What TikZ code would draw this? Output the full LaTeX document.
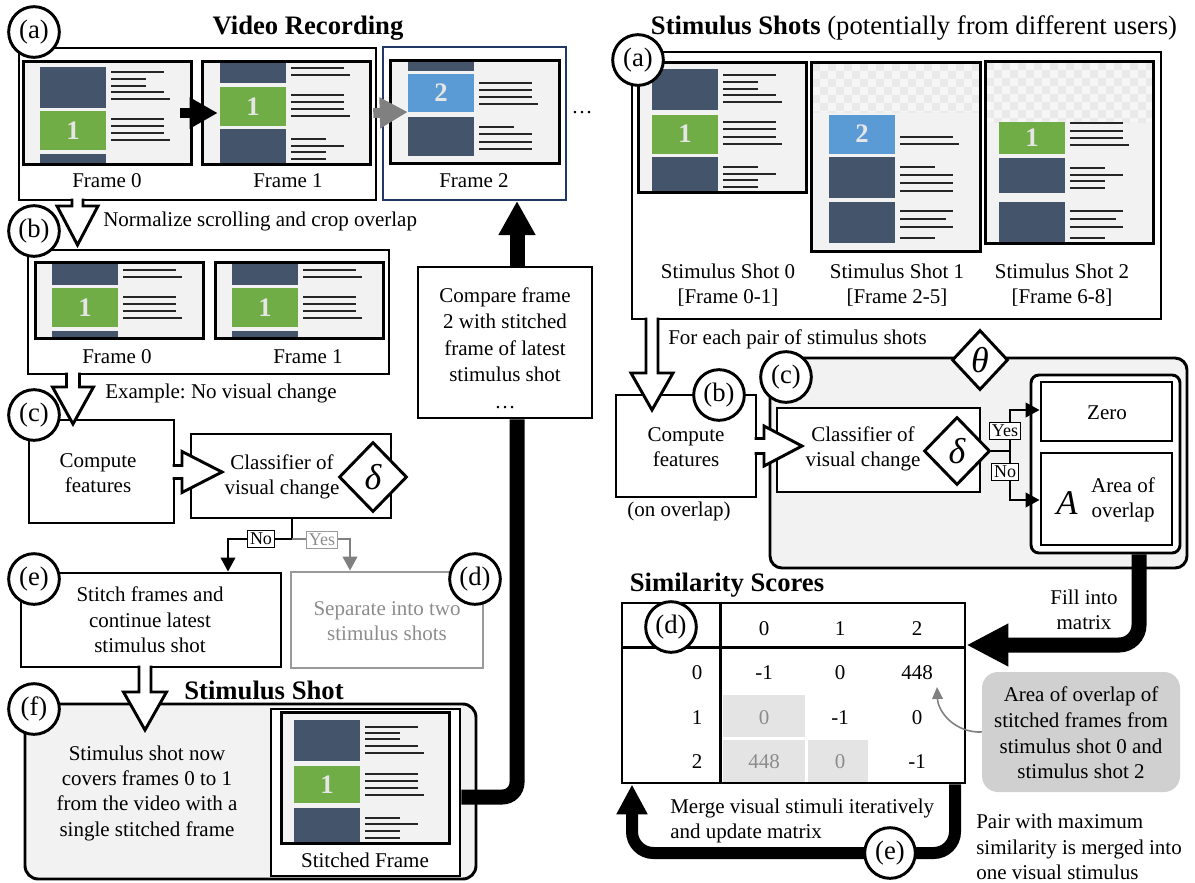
\documentclass[tikz,border=0pt]{standalone}
\usepackage{fontspec}
\setmainfont{Liberation Serif}
\usetikzlibrary{arrows.meta,shapes.geometric,fit,calc}
\frenchspacing
\definecolor{dk}{HTML}{44546A}
\definecolor{gr}{HTML}{70AD47}
\definecolor{bu}{HTML}{5B9BD5}
\definecolor{tb}{HTML}{F2F2F2}
\definecolor{nv}{HTML}{1F3864}
\definecolor{numc}{HTML}{E7E6E6}
\definecolor{gline}{HTML}{999999}
\definecolor{gtext}{HTML}{8C8C8C}
\definecolor{gray50}{HTML}{808080}
\definecolor{cell}{HTML}{E4E4E4}
\definecolor{callout}{HTML}{D0D0D0}
\definecolor{chk}{HTML}{EAEAEA}
\definecolor{chkbg}{HTML}{F6F6F6}
\definecolor{tl}{HTML}{262626}
\tikzset{
  bx/.style={draw, line width=2.2pt, inner sep=0pt},
  fr/.style={line width=2.2pt},
  tx/.style={font=\fontsize{15.75}{19}\selectfont, align=center, inner sep=0pt},
  ttl/.style={font=\fontsize{20}{24}\selectfont\bfseries, inner sep=0pt},
  lab/.style={circle, draw, line width=2.2pt, fill=white, minimum size=38pt, inner sep=0pt, font=\fontsize{20}{24}\selectfont},
  num/.style={font=\fontsize{20}{24}\selectfont\bfseries, text=numc, inner sep=0pt},
  tline/.style={draw=tl, line width=1.4pt},
  yn/.style={draw, line width=1pt, fill=white, inner sep=2pt, font=\fontsize{13.5}{15}\selectfont},
  arr/.style={line width=1.5pt, -{Triangle[length=10.5pt,width=11pt]}},
  blk/.style={line width=2.2pt, line join=miter},
  dia/.style={diamond, draw, line width=2.2pt, fill=white, inner sep=0pt, font=\fontsize{27}{27}\selectfont\itshape},
}
\newcommand\TLs[2]{\foreach \yy/\ee in {#2}{\draw[tline] (#1+71,\yy) -- (#1+\ee,\yy);}}
\newcommand\hdown[7]{%
  \fill[white] (#1-#5,#2-#7) -- (#1-#5,#3) -- (#1-#6,#3) -- (#1,#4) -- (#1+#6,#3) -- (#1+#5,#3) -- (#1+#5,#2-#7) -- cycle;
  \draw[blk] (#1-#5,#2-1.4) -- (#1-#5,#3) -- (#1-#6,#3) -- (#1,#4) -- (#1+#6,#3) -- (#1+#5,#3) -- (#1+#5,#2-1.4);}
\newcommand\hright[7]{%
  \fill[white] (#2-#7,#1-#5) -- (#3,#1-#5) -- (#3,#1-#6) -- (#4,#1) -- (#3,#1+#6) -- (#3,#1+#5) -- (#2-#7,#1+#5) -- cycle;
  \draw[blk] (#2-1.4,#1-#5) -- (#3,#1-#5) -- (#3,#1-#6) -- (#4,#1) -- (#3,#1+#6) -- (#3,#1+#5) -- (#2-1.4,#1+#5);}
\newcommand\checker[4]{%
  \begin{scope}
  \clip (#1,#2) rectangle (#3,#4);
  \fill[chkbg] (#1,#2) rectangle (#3,#4);
  \foreach \i in {0,...,21}{\foreach \j in {0,...,8}{%
    \pgfmathtruncatemacro\kk{mod(\i+\j,2)}%
    \ifnum\kk=0 \fill[chk] (#1+8*\i,#2+8*\j) rectangle ++(8,8);\fi}}
  \end{scope}}
\begin{document}
\begin{tikzpicture}[x=0.75pt,y=-0.75pt]
\useasboundingbox (0,0) rectangle (1195,882);

% ================= LEFT: (a) video recording =================
\node[ttl] (tvr) at (308,28) {Video Recording};
\node[bx, fit={(19,48)(376,200)}] (va) {};
% frame 0
\node[fit={(24,62)(191,164)}, inner sep=0pt, fill=tb] (f0a) {};
\fill[dk] (40,67) rectangle (106,108);
\fill[gr] (40,111) rectangle (106,150);
\fill[dk] (40,154) rectangle (106,164);
\node[num] (n0a) at (73,131) {1};
\TLs{40}{72/124,79/106,86/106,92/124,99/130,119/124,126/124,133/124,140/130}
\draw[fr] (f0a.north west) rectangle (f0a.south east);
% frame 1
\node[fit={(203,62)(370,164)}, inner sep=0pt, fill=tb] (f1a) {};
\fill[dk] (220,62) rectangle (286,83);
\fill[gr] (220,87) rectangle (286,126);
\fill[dk] (220,129) rectangle (286,164);
\node[num] (n1a) at (253,107) {1};
\TLs{220}{68/124,75/130,95/124,102/124,109/124,116/130,139/106,146/124,152/106,159/106}
\draw[fr] (f1a.north west) rectangle (f1a.south east);
% frame 2
\node[draw=nv, line width=1.5pt, inner sep=0pt, fit={(383,47)(566,200)}] (f2) {};
\node[fit={(391,61)(559,163)}, inner sep=0pt, fill=tb] (f2t) {};
\fill[dk] (408,62) rectangle (474,71);
\fill[bu] (408,74) rectangle (474,112);
\fill[dk] (408,117) rectangle (474,156);
\node[num] (n2) at (441,93) {2};
\TLs{408}{83/124,90/124,97/124,104/130,127/106,134/124,142/124,149/124}
\draw[fr] (f2t.north west) rectangle (f2t.south east);
\node[tx] (lf0) at (107,181) {Frame 0};
\node[tx] (lf1) at (288,181) {Frame 1};
\node[tx] (lf2) at (474,181) {Frame 2};
\node[tx] (dots) at (582,113) {…};
\draw[line width=7.5pt, -{Triangle[length=21pt,width=22pt]}] ($(f0a.east)+(-11,0)$) -- ($(f1a.west)+(15,0)$);
\draw[gray50, line width=7.5pt, -{Triangle[length=21pt,width=22pt]}] ($(f1a.east)+(3,0)$) -- ($(f2t.west)+(17,0)$);

% ================= LEFT: (b) =================
\node[tx, anchor=west] (tnorm) at (103,221) {Normalize scrolling and crop overlap};
\node[bx, fit={(28,250)(389,374)}] (vb) {};
\node[fit={(36,263)(203,338)}, inner sep=0pt, fill=tb] (f0b) {};
\fill[dk] (52,264) rectangle (118,285);
\fill[gr] (52,288) rectangle (118,327);
\fill[dk] (52,331) rectangle (118,338);
\node[num] (n0b) at (85,308) {1};
\TLs{52}{270/124,277/130,297/124,304/124,311/124,318/130}
\draw[fr] (f0b.north west) rectangle (f0b.south east);
\node[fit={(216,263)(383,338)}, inner sep=0pt, fill=tb] (f1b) {};
\fill[dk] (232,264) rectangle (298,285);
\fill[gr] (232,288) rectangle (298,327);
\fill[dk] (232,331) rectangle (298,338);
\node[num] (n1b) at (265,308) {1};
\TLs{232}{270/124,277/130,297/124,304/124,311/124,318/130}
\draw[fr] (f1b.north west) rectangle (f1b.south east);
\node[tx] (lf0b) at (117,357) {Frame 0};
\node[tx] (lf1b) at (308,357) {Frame 1};
\hdown{77.5}{200}{206}{245}{5.5}{20.5}{2}

% ================= LEFT: (c) =================
\node[tx, anchor=west] (tex) at (105,393) {Example: No visual change};
\node[bx, fill=white, fit={(29,420)(174,523)}] (cf) {};
\node[tx] (tcf) at (98,473) {Compute\\features};
\node[bx, fill=white, fit={(191,434)(391,518)}] (cl) {};
\node[tx] (tcl) at (282,477) {Classifier of\\visual change};
\node[dia, minimum width=51pt, minimum height=52.5pt] (d1) at (373,477) {δ};
\hdown{73}{374}{387}{424}{6.5}{20.5}{2}
\hright{472}{174}{182}{222}{6.5}{20.5}{2}

% ================= LEFT: (d), (e) =================
\node[bx, fill=white, fit={(21,573)(281,667)}] (st) {};
\node[tx] (tst) at (150,620) {Stitch frames and\\continue latest\\stimulus shot};
\node[draw=gline, line width=2.2pt, inner sep=0pt, fit={(291,572)(483,668)}] (sep) {};
\node[tx, text=gtext] (tsep) at (387,621) {Separate into two\\stimulus shots};
\coordinate (j8) at (292,539);
\coordinate (j9) at (228,539);
\coordinate (j10) at (350,539);
\draw[line width=1.5pt] (cl.south -| j8) -- (j8);
\draw[arr] (j8) -- (j9) -- (st.north -| j9);
\draw[arr, gray50] (j8) -- (j10) -- (sep.north -| j10);
\node[yn] (no1) at (261,539) {No};
\node[yn, draw=gline, text=gtext] (yes1) at (322,540) {Yes};

% ================= LEFT: (f) stimulus shot =================
\node[bx, fill=tb, rounded corners=10pt, fit={(25,704)(476,879)}] (ss) {};
\node[ttl] (tss2) at (264,690) {Stimulus Shot};
\node[tx] (tssx) at (147,793) {Stimulus shot now\\covers frames 0 to 1\\from the video with a\\single stitched frame};
\node[bx, fill=white, fit={(271,709)(460,876)}] (sf) {};
\node[fit={(282,713)(449,843)}, inner sep=0pt, fill=tb] (sft) {};
\fill[dk] (294,720) rectangle (360,761);
\fill[gr] (294,766) rectangle (360,803);
\fill[dk] (294,808) rectangle (360,843);
\node[num] (nsf) at (327,785) {1};
\TLs{294}{727/124,733/106,739/106,746/124,753/130,774/124,781/124,788/124,795/130,818/106,824/124,831/106,838/106}
\draw[fr] (sft.north west) rectangle (sft.south east);
\node[tx] (lsf) at (365,860) {Stitched Frame};
\hdown{145}{667}{692}{730}{6}{21.5}{2}

% compare box and thick connector
\node[bx, fill=white, fit={(418,267)(592,418)}] (cmp) {};
\node[tx, font=\fontsize{15.75}{19.8}\selectfont] (tcmp) at (505,348) {Compare frame\\2 with stitched\\frame of latest\\stimulus shot\\…};
\coordinate (j1) at (517,797);
\draw[line width=11.25pt, rounded corners=11pt] (sf.east |- j1) -- (j1) -- (cmp.south -| j1);
\draw[line width=11.25pt, -{Triangle[length=25.5pt,width=26pt]}] (cmp.north -| j1) -- (f2.south -| j1);

% circles left
\node[lab] (ca) at (34,32) {(a)};
\node[lab] (cb) at (34,231) {(b)};
\node[lab] (cc) at (34,415) {(c)};
\node[lab] (ce) at (34,579) {(e)};
\node[lab] (cd) at (475,579) {(d)};
\node[lab] (cfl) at (34,709) {(f)};

% ================= RIGHT: (a) stimulus shots =================
\node[font=\fontsize{20}{24}\selectfont, inner sep=0pt] (tshots) at (914,28) {\textbf{Stimulus Shots} (potentially from different users)};
\node[bx, fit={(632,52)(1161,319)}] (ra) {};
% shot 0
\node[fit={(639,63)(806,192)}, inner sep=0pt, fill=tb] (s0) {};
\fill[dk] (652,69) rectangle (718,110);
\fill[gr] (652,115) rectangle (718,154);
\fill[dk] (652,157) rectangle (718,192);
\node[num] (ns0) at (685,134) {1};
\TLs{652}{75/124,82/106,89/106,95/124,102/130,122/124,129/124,137/124,144/130,167/106,174/124,180/106,187/106}
\draw[fr] (s0.north west) rectangle (s0.south east);
% shot 1
\node[fit={(812,63)(980,251)}, inner sep=0pt, fill=tb] (s1) {};
\checker{812}{63}{980}{112}
\fill[bu] (829,115) rectangle (895,154);
\fill[dk] (829,157) rectangle (895,198);
\fill[dk] (829,202) rectangle (895,243);
\node[num] (ns1) at (862,134) {2};
\TLs{829}{137/124,144/130,167/106,175/124,183/124,191/124,211/124,219/117,227/124,238/106}
\draw[fr] (s1.north west) rectangle (s1.south east);
% shot 2
\node[fit={(986,62)(1153,243)}, inner sep=0pt, fill=tb] (s2) {};
\checker{986}{62}{1153}{122}
\fill[gr] (999,122) rectangle (1065,154);
\fill[dk] (999,158) rectangle (1065,193);
\fill[dk] (999,202) rectangle (1065,243);
\node[num] (ns2) at (1032,138) {1};
\TLs{999}{123/124,131/124,138/124,145/130,168/106,175/124,181/106,188/106,211/124,219/117,227/124,238/106}
\draw[fr] (s2.north west) rectangle (s2.south east);
\node[tx, font=\fontsize{15.75}{18.5}\selectfont] (ls0) at (728,285) {Stimulus Shot 0\\ {[Frame 0-1]}};
\node[tx, font=\fontsize{15.75}{18.5}\selectfont] (ls1) at (897,285) {Stimulus Shot 1\\ {[Frame 2-5]}};
\node[tx, font=\fontsize{15.75}{18.5}\selectfont] (ls2) at (1062,285) {Stimulus Shot 2\\ {[Frame 6-8]}};

% ================= RIGHT: (b), (c) =================
\node[tx, anchor=west] (tfep) at (668,339) {For each pair of stimulus shots};
\node[bx, fill=white, fit={(616,395)(756,497)}] (cfr) {};
\node[tx] (tcfr) at (686,447) {Compute\\features};
\node[tx] (tovl) at (679,511) {(on overlap)};
\hdown{652}{319}{373}{410}{6}{21}{2}
\node[bx, fill=tb, rounded corners=9pt, fit={(770,358)(1187,568)}] (cg) {};
\node[dia, minimum width=42pt, minimum height=45pt] (th) at (980,360) {θ};
\node[bx, fill=white, fit={(777,408)(980,492)}] (clr) {};
\node[tx] (tclr) at (863,449) {Classifier of\\visual change};
\node[dia, minimum width=49.5pt, minimum height=51pt] (d2) at (957,451) {δ};
\hright{446}{756}{764}{802}{7.5}{20}{2}
\node[bx, fill=white, rounded corners=6pt, fit={(1031,375)(1180,553)}] (cont) {};
\node[bx, fill=white, fit={(1041,382)(1172,441)}] (zero) {};
\node[tx] (tzero) at (1107,413) {Zero};
\node[bx, fill=white, fit={(1041,453)(1172,545)}] (area) {};
\node[font=\fontsize{26}{26}\selectfont\itshape, inner sep=0pt] (tA) at (1067,503) {A};
\node[tx] (tarea) at (1123,500) {Area of\\overlap};
\coordinate (j5) at (1010,451);
\coordinate (j6) at (1010,410);
\coordinate (j7) at (1010,500);
\draw[line width=1.5pt] (d2.east) -- (j5);
\draw[arr] (j5) -- (j6) -- (zero.west |- j6);
\draw[arr] (j5) -- (j7) -- (area.west |- j7);
\node[yn] (yes2) at (1005,431) {Yes};
\node[yn] (no2) at (1005,472) {No};

% ================= RIGHT: (d) similarity scores =================
\node[ttl] (tsim) at (727,585) {Similarity Scores};
\fill[cell] (723,695) rectangle (805,737);
\fill[cell] (723,740) rectangle (805,782);
\fill[cell] (808,740) rectangle (868,782);
\node[bx, fit={(622,603)(965,783)}] (tab) {};
\draw[line width=2.2pt] ($(tab.north west)+(0,46)$) -- ($(tab.north east)+(0,46)$);
\draw[line width=2.2pt] ($(tab.north west)+(100,0)$) -- ($(tab.south west)+(100,0)$);
\node[tx] (h0) at (764,629) {0};
\node[tx] (h1) at (840,629) {1};
\node[tx] (h2) at (917,629) {2};
\node[tx] (r0) at (697,673) {0};
\node[tx] (r1) at (697,718) {1};
\node[tx] (r2) at (697,762) {2};
\node[tx] (v00) at (764,673) {-1};
\node[tx] (v01) at (840,673) {0};
\node[tx] (v02) at (917,673) {448};
\node[tx, text=gtext] (v10) at (764,718) {0};
\node[tx] (v11) at (840,718) {-1};
\node[tx] (v12) at (917,718) {0};
\node[tx, text=gtext] (v20) at (764,762) {448};
\node[tx, text=gtext] (v21) at (840,762) {0};
\node[tx] (v22) at (917,762) {-1};

\coordinate (j2) at (1139,645);
\draw[line width=11.25pt, rounded corners=15pt, -{Triangle[length=31.5pt,width=30pt]}] (cont.south -| j2) -- (j2) -- (tab.east |- j2);
\node[tx] (tfill) at (1084,610) {Fill into\\matrix};

\node[fill=callout, rounded corners=12pt, inner sep=0pt, fit={(982,672)(1180,792)}] (co) {};
\node[tx, font=\fontsize{15.75}{19.3}\selectfont] (tco) at (1081,733) {Area of overlap of\\stitched frames from\\stimulus shot 0 and\\stimulus shot 2};
\draw[gray50, line width=1.2pt, -{Triangle[length=9pt,width=8pt]}] (co.west) .. controls (955,733) and (938,712) .. (937,687);

\coordinate (j3) at (955,853);
\coordinate (j4) at (632,853);
\draw[line width=9pt, rounded corners=16pt, -{Triangle[length=22.5pt,width=22pt]}] (tab.south -| j3) -- (j3) -- (j4) -- (tab.south -| j4);
\node[tx, align=left, anchor=west] (tmerge) at (670,821) {Merge visual stimuli iteratively\\and update matrix};
\node[tx, align=left, anchor=west] (tpair) at (976,847) {Pair with maximum\\similarity is merged into\\one visual stimulus};

% circles right
\node[lab] (cra) at (638,60) {(a)};
\node[lab] (crb) at (719,395) {(b)};
\node[lab] (crc) at (786,377) {(c)};
\node[lab] (crd) at (671,627) {(d)};
\node[lab] (cre) at (890,853) {(e)};
\end{tikzpicture}
\end{document}
